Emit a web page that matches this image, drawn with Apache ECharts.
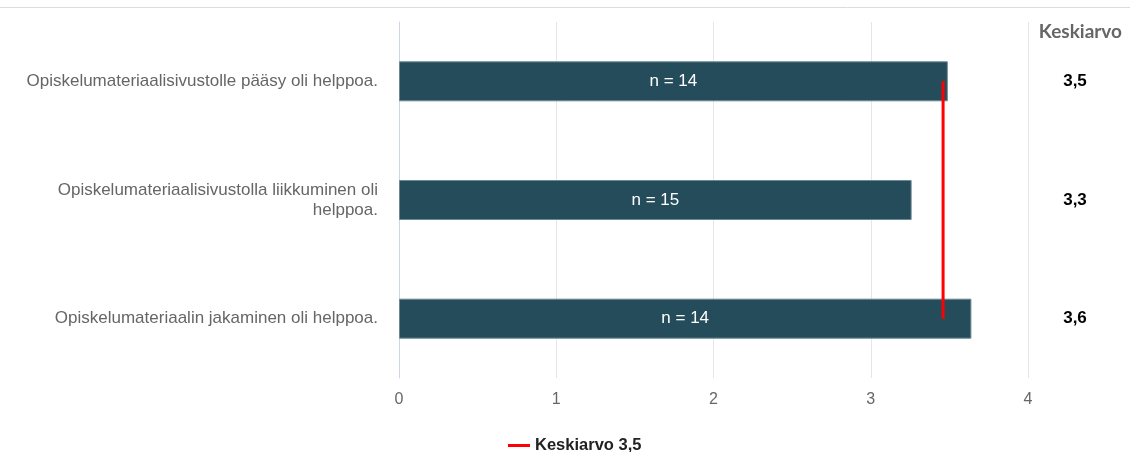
<!DOCTYPE html>
<html>
<head>
<meta charset="utf-8">
<script src="https://cdn.jsdelivr.net/npm/echarts@6/dist/echarts.min.js"></script>
<style>html,body{margin:0;padding:0;background:#fff}#c{width:1130px;height:452px}</style>
</head>
<body>
<div id="c"></div>
<script>
var categories = [
  'Opiskelumateriaalisivustolle pääsy oli helppoa.',
  'Opiskelumateriaalisivustolla liikkuminen oli\nhelppoa.',
  'Opiskelumateriaalin jakaminen oli helppoa.'
];
var values = [3.49, 3.26, 3.64];
var nCounts = [14, 15, 14];
var avgLabels = ['3,5', '3,3', '3,6'];
var overallMean = 3.46;
var overallLabel = 'Keskiarvo 3,5';
var xTicks = [0, 1, 2, 3, 4];

var font = 'Liberation Sans, Arial, sans-serif';
var chart = echarts.init(document.getElementById('c'));
chart.setOption({
  animation: false,
  title: {
    text: 'Keskiarvo', right: 3, top: 17,
    textStyle: {fontFamily: 'Lato, sans-serif', fontWeight: 'bold', fontSize: 19, color: '#666'}
  },
  graphic: [{type: 'line', shape: {x1: 0, y1: 7.5, x2: 1130, y2: 7.5}, style: {stroke: '#dcdcdc', lineWidth: 1}}],
  legend: {
    data: [overallLabel], left: 503, top: 432, icon: 'rect', itemWidth: 22, itemHeight: 3, itemGap: 6,
    textStyle: {fontFamily: font, fontWeight: 'bold', fontSize: 16.5, color: '#222'}
  },
  grid: {left: 399, right: 102, top: 22, bottom: 74, containLabel: false},
  xAxis: {
    type: 'value', min: xTicks[0], max: xTicks[xTicks.length - 1], interval: 1,
    axisLine: {show: false}, axisTick: {show: false},
    splitLine: {lineStyle: {color: '#e6e6e6'}},
    axisLabel: {fontFamily: font, fontSize: 16, color: '#666', margin: 14}
  },
  yAxis: [{
    type: 'category', data: categories, inverse: true,
    axisLine: {show: true, lineStyle: {color: '#ccd6eb'}}, axisTick: {show: false},
    axisLabel: {fontFamily: font, fontSize: 17, color: '#666', margin: 21, align: 'right', lineHeight: 20}
  }, {
    type: 'category', data: avgLabels, inverse: true, position: 'right',
    axisLine: {show: false}, axisTick: {show: false},
    axisLabel: {fontFamily: font, fontSize: 17, fontWeight: 'bold', color: '#000', margin: 47, align: 'center'}
  }],
  series: [{
    type: 'bar', data: values, barWidth: 40, yAxisIndex: 0,
    itemStyle: {color: '#244c5a', borderColor: '#6d8893', borderWidth: 1},
    label: {
      show: true, position: 'inside', color: '#fff', fontFamily: font, fontSize: 17,
      formatter: function (p) { return 'n = ' + nCounts[p.dataIndex]; }
    }
  }, {
    name: overallLabel, type: 'line', yAxisIndex: 0, symbol: 'none', z: 5,
    data: [[overallMean, 0], [overallMean, categories.length - 1]],
    lineStyle: {color: '#ff0000', width: 3}, itemStyle: {color: '#ff0000'}
  }]
});
</script>
</body>
</html>
